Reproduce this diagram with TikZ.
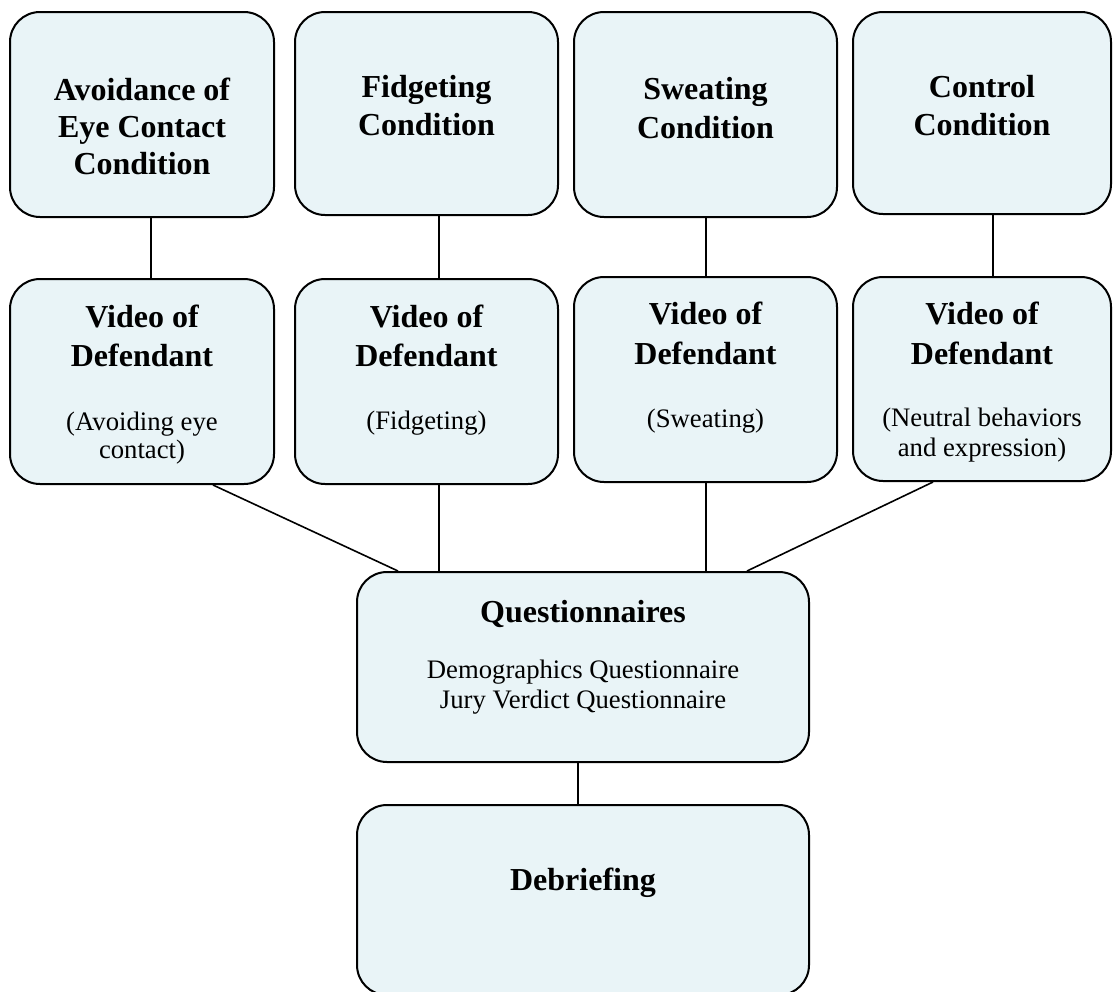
\documentclass[tikz,border=0pt]{standalone}
\usepackage{fontspec}
\setmainfont{Liberation Serif}
\definecolor{boxfill}{RGB}{233,244,247}
\tikzset{
  box/.style={draw=black, line width=2pt, fill=boxfill, rounded corners=30pt, inner sep=0pt},
  link/.style={draw=black, line width=1.6pt},
  bt/.style={anchor=base, inner sep=0pt, font=\fontsize{32}{37}\selectfont\bfseries},
  rt/.style={anchor=base, inner sep=0pt, font=\fontsize{26.7}{31}\selectfont},
}
\begin{document}
\begin{tikzpicture}[x=1pt,y=-1pt]
\useasboundingbox (0,0) rectangle (1113,991);
% top row
\node[box, minimum width=264, minimum height=205] (c1) at (142,114.5) {};
\node[box, minimum width=263, minimum height=203] (c2) at (426.5,113.5) {};
\node[box, minimum width=263, minimum height=205] (c3) at (705.5,114.5) {};
\node[box, minimum width=258, minimum height=202] (c4) at (982,113) {};
% second row
\node[box, minimum width=264, minimum height=205] (v1) at (142,381.5) {};
\node[box, minimum width=263, minimum height=205] (v2) at (426.5,381.5) {};
\node[box, minimum width=263, minimum height=205] (v3) at (705.5,379.5) {};
\node[box, minimum width=258, minimum height=204] (v4) at (982,379) {};
% bottom
\node[box, minimum width=452, minimum height=190] (q) at (583,667) {};
\node[box, minimum width=452, minimum height=190] (d) at (583,900) {};
% connectors
\draw[link] ([xshift=9pt]c1.south) -- ([xshift=9pt]v1.north);
\draw[link] ([xshift=12.5pt]c2.south) -- ([xshift=12.5pt]v2.north);
\draw[link] ([xshift=0.5pt]c3.south) -- ([xshift=0.5pt]v3.north);
\draw[link] ([xshift=11pt]c4.south) -- ([xshift=11pt]v4.north);
\draw[link] ([xshift=71pt]v1.south) -- ([xshift=-185pt]q.north);
\draw[link] ([xshift=12.5pt]v2.south) -- ([xshift=-144pt]q.north);
\draw[link] ([xshift=0.5pt]v3.south) -- ([xshift=123pt]q.north);
\draw[link] ([xshift=-49pt]v4.south) -- ([xshift=164pt]q.north);
\draw[link] ([xshift=-5pt]q.south) -- ([xshift=-5pt]d.north);
% texts top row
\node[bt] (t1a) at (142,100) {Avoidance of};
\node[bt] (t1b) at (142,137) {Eye Contact};
\node[bt] (t1c) at (142,174) {Condition};
\node[bt] (t2a) at (426.5,97) {Fidgeting};
\node[bt] (t2b) at (426.5,135) {Condition};
\node[bt] (t3a) at (705.5,99) {Sweating};
\node[bt] (t3b) at (705.5,138) {Condition};
\node[bt] (t4a) at (982,97) {Control};
\node[bt] (t4b) at (982,135) {Condition};
% texts second row
\node[bt] (u1a) at (142,327) {Video of};
\node[bt] (u1b) at (142,366) {Defendant};
\node[rt] (u1c) at (142,430) {(Avoiding eye};
\node[rt] (u1d) at (142,458) {contact)};
\node[bt] (u2a) at (426.5,327) {Video of};
\node[bt] (u2b) at (426.5,366) {Defendant};
\node[rt] (u2c) at (426.5,429) {(Fidgeting)};
\node[bt] (u3a) at (705.5,324) {Video of};
\node[bt] (u3b) at (705.5,364) {Defendant};
\node[rt] (u3c) at (705.5,427) {(Sweating)};
\node[bt] (u4a) at (982,324) {Video of};
\node[bt] (u4b) at (982,364) {Defendant};
\node[rt] (u4c) at (982,426) {(Neutral behaviors};
\node[rt] (u4d) at (982,456) {and expression)};
% bottom texts
\node[bt] (qa) at (583,622) {Questionnaires};
\node[rt] (qb) at (583,678) {Demographics Questionnaire};
\node[rt] (qc) at (583,708) {Jury Verdict Questionnaire};
\node[bt] (da) at (583,890) {Debriefing};
\end{tikzpicture}
\end{document}
